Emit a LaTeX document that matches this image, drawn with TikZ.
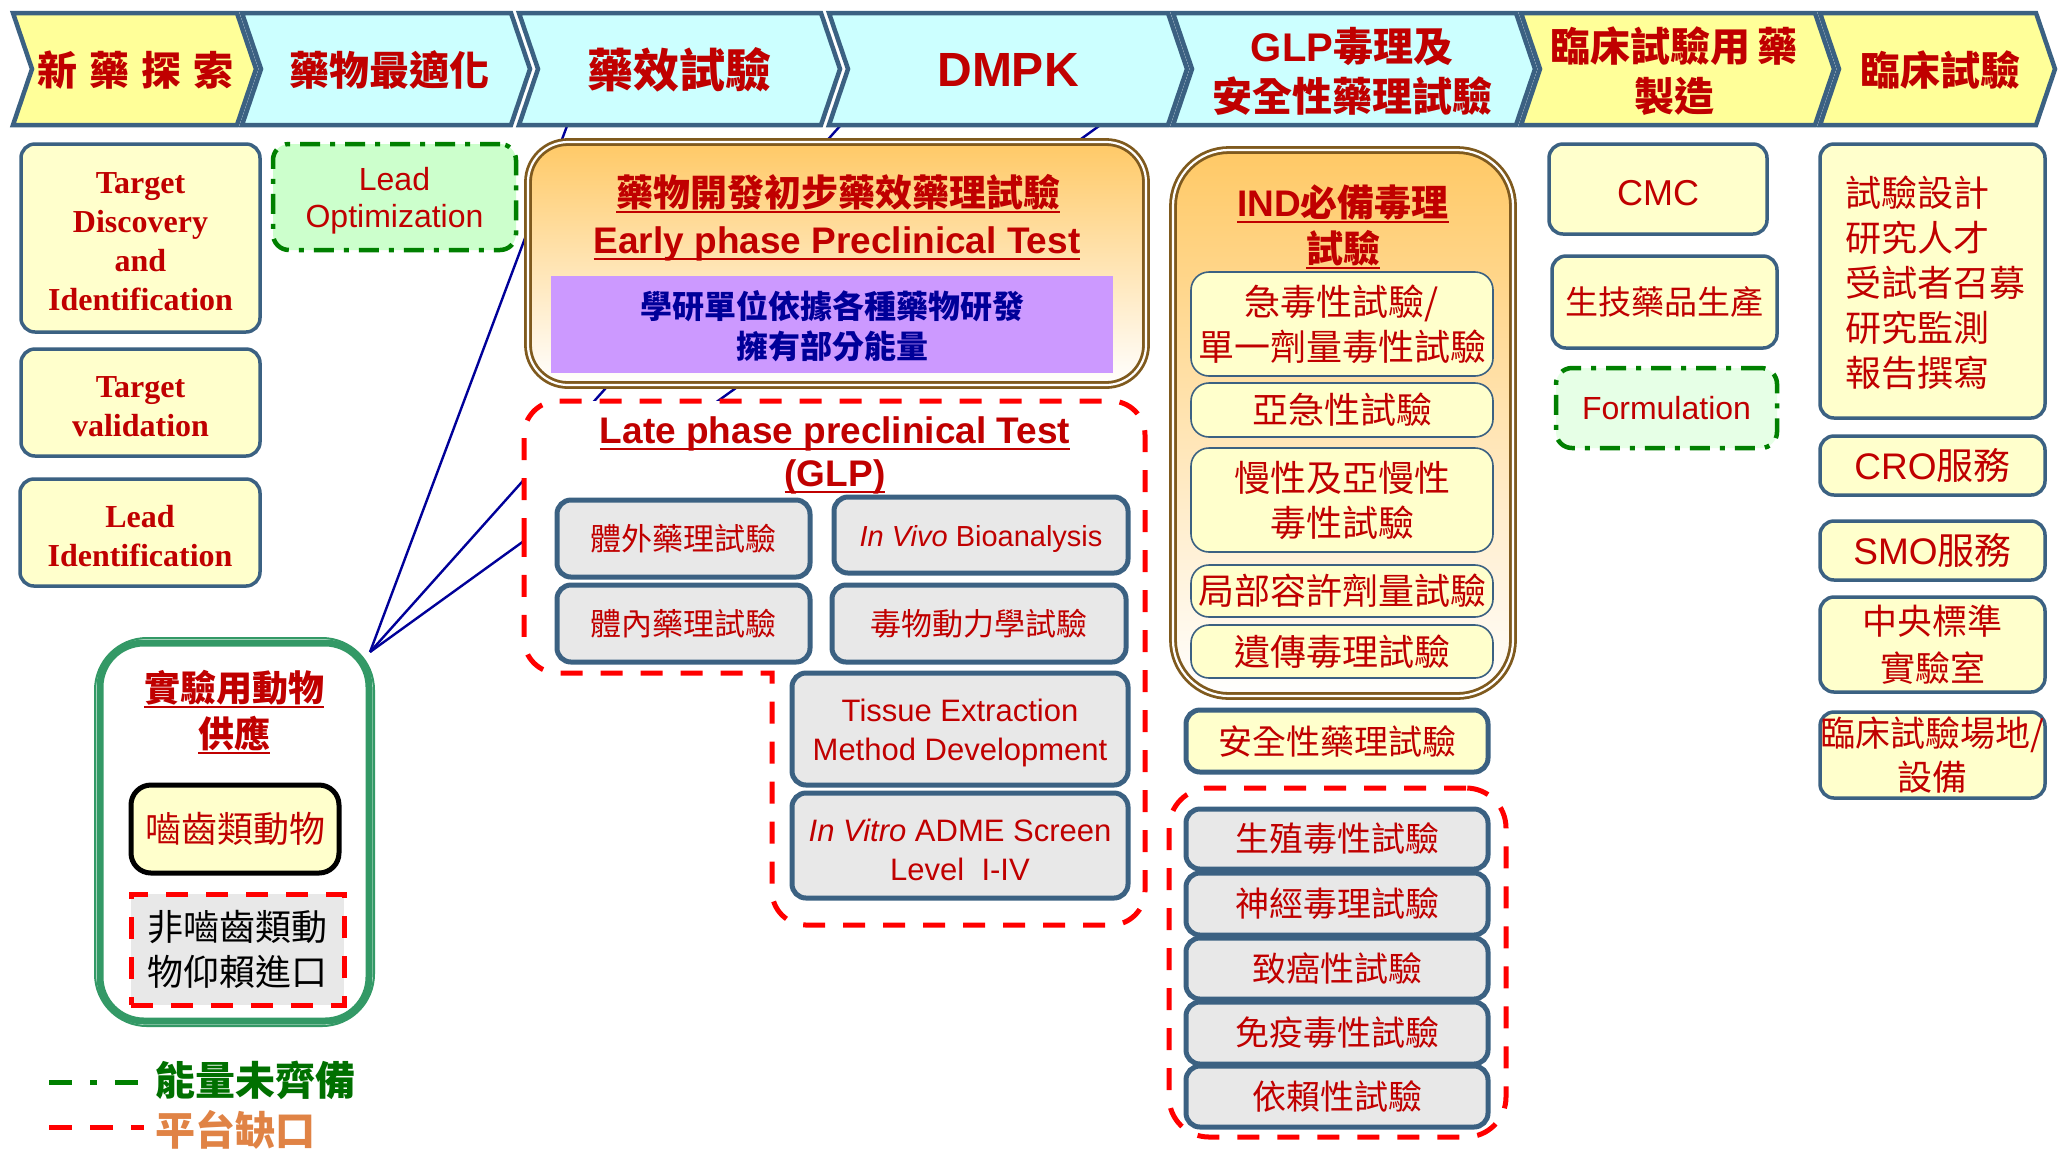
\documentclass[tikz,border=0pt]{standalone}
\usepackage{fontspec}
\setmainfont{Noto Sans CJK TC}
\newfontfamily\lat{Liberation Sans}
\newfontfamily\tnr{Liberation Serif}
\definecolor{bordc}{HTML}{3B6182}
\definecolor{redT}{HTML}{C00000}
\definecolor{cyanF}{HTML}{CCFFFF}
\definecolor{yelF}{HTML}{FFFF99}
\definecolor{ltyel}{HTML}{FFFFCC}
\definecolor{grayF}{HTML}{E8E8E8}
\definecolor{dkgreen}{HTML}{008000}
\definecolor{ltgreen}{HTML}{CCFFCC}
\definecolor{ltgreenB}{HTML}{E6FFE6}
\definecolor{brownB}{HTML}{7F5A1E}
\definecolor{orangeT}{HTML}{FFC966}
\definecolor{purpleF}{HTML}{CC99FF}
\definecolor{navyT}{HTML}{000099}
\definecolor{animG}{HTML}{339966}
\definecolor{legG}{HTML}{007000}
\definecolor{legO}{HTML}{E08345}
\definecolor{dashR}{HTML}{FF0000}
\newcommand\fsz[2]{\fontsize{#1}{#2}\selectfont}
\newcommand\myul[1]{\leavevmode\setbox0=\hbox{#1}\rlap{\rule[-0.2em]{\wd0}{0.075em}}\box0}
\newcommand\bx[7]{\node[#2, minimum width={(#5-#3)*0.5pt}, minimum height={(#6-#4)*0.5pt}] (#1) at ({(#3+#5)/2},{(#4+#6)/2}) {#7};}
\newcommand\bxl[8]{\node[#2, minimum width={(#5-#3)*0.5pt}, minimum height={(#6-#4)*0.5pt}] (#1) at ({(#3+#5)/2},{(#4+#6)/2}) {};
  \node[lattext, #7] (#1t) at (#1.center) {#8};}
\newcommand\chevron[3]{\path[chev, fill=#3] (#1,13) -- (#2,13) -- (#2+19,69) -- (#2,125) -- (#1,125) -- (#1+19,69) -- cycle;}
\tikzset{
  chev/.style={draw=bordc, line width=2.25pt, line join=miter},
  ctext/.style={text=redT, font=\bfseries\fsz{20pt}{25pt}, align=center, inner sep=0pt},
  ybox/.style={draw=bordc, fill=ltyel, line width=1.75pt, rounded corners=7pt, align=center, inner sep=0pt, text=redT},
  gbox/.style={draw=bordc, fill=grayF, line width=2.5pt, rounded corners=7pt, align=center, inner sep=0pt, text=redT},
  thinbox/.style={draw=bordc, fill=ltyel, line width=0.8pt, rounded corners=9pt, align=center, inner sep=0pt, text=redT, font=\fsz{18pt}{22.5pt}},
  gdash/.style={draw=dkgreen, line width=2.25pt, dash pattern=on 10pt off 5pt on 2.5pt off 5pt, rounded corners=8pt, align=center, inner sep=0pt, text=redT},
  rdash/.style={draw=dashR, line width=2.5pt, dash pattern=on 11pt off 9pt},
  dbl/.style={draw=brownB, double=white, line width=1.4pt, double distance=1.1pt, inner sep=0pt},
  bl/.style={draw=navyT, line width=1.2pt},
  ttl/.style={text=redT, font=\bfseries\fsz{18.5pt}{22pt}, anchor=base, inner sep=0pt},
  lattext/.style={text=redT, align=center, inner sep=0pt, yshift=-2pt},
}
\begin{document}
\begin{tikzpicture}[x=0.5pt, y=-0.5pt]
\path[use as bounding box, fill=white] (0,0) rectangle (2059,1153);
% connectors (behind everything)
\coordinate (ac) at (370,652);
\coordinate (t1) at (567,126);
\coordinate (t2) at (840,126);
\coordinate (t3) at (1099,126);
\draw[bl] (ac) -- (t1);
\draw[bl] (ac) -- (t2);
\draw[bl] (ac) -- (t3);
% chevrons
\chevron{13}{237}{yelF}
\chevron{242}{511}{cyanF}
\chevron{519}{821}{cyanF}
\chevron{829}{1168}{cyanF}
\chevron{1173}{1516}{cyanF}
\chevron{1521}{1815}{yelF}
\chevron{1820}{2036}{yelF}
\node[ctext] (ch1) at (135,70) {新\hspace{0.3em}藥\hspace{0.3em}探\hspace{0.3em}索};
\node[ctext] (ch2) at (389,70) {藥物最適化};
\node[ctext, font=\bfseries\fsz{23pt}{28pt}] (ch3) at (679,70) {藥效試驗};
\node[ctext, font=\lat\bfseries\fsz{24pt}{28pt}] (ch4) at (1008,70) {DMPK};
\node[ctext] (ch5) at (1352,71) {{\lat GLP}毒理及\\安全性藥理試驗};
\node[ctext] (ch6) at (1674,71) {臨床試驗用\hspace{0.2em}藥\\製造};
\node[ctext] (ch7) at (1940,70) {臨床試驗};
% left column
\bxl{td}{ybox}{21}{144}{260}{332}{font=\tnr\bfseries\fsz{16pt}{19.5pt}}{Target\\Discovery\\and\\Identification}
\bxl{tv}{ybox}{21}{349}{260}{456}{font=\tnr\bfseries\fsz{16pt}{19.5pt}}{Target\\validation}
\bxl{li}{ybox}{20}{479}{260}{586}{font=\tnr\bfseries\fsz{16pt}{19.5pt}}{Lead\\Identification}
\bxl{lo}{gdash, fill=ltgreen}{273}{144}{516}{250}{font=\lat\fsz{16pt}{18.5pt}}{Lead\\Optimization}
% early phase
\bx{early}{dbl, top color=orangeT, bottom color=white, rounded corners=20pt}{528}{142}{1146}{385}{}
\node[ttl] (et1) at (838,206) {\myul{藥物開發初步藥效藥理試驗}};
\node[ttl, font=\lat\bfseries\fsz{18.5pt}{22pt}] (et2) at (837,253) {\myul{Early phase Preclinical Test}};
\bxl{purp}{fill=purpleF}{551}{276}{1113}{373}{text=navyT, font=\bfseries\fsz{16pt}{20pt}, yshift=1pt}{學研單位依據各種藥物研發\\擁有部分能量}
% late phase
\path[rdash, fill=white] (524,540) [rounded corners=17pt] -- (524,401) -- (1145,401) -- (1145,925) -- (772,925) [sharp corners] -- (772,673) [rounded corners=17pt] -- (524,673) -- (524,540);
\node[ttl, font=\lat\bfseries\fsz{18.5pt}{22pt}] (lt1) at (835,443) {\myul{Late phase preclinical Test}};
\node[ttl, font=\lat\bfseries\fsz{18.5pt}{22pt}] (lt2) at (835,486) {\myul{(GLP)}};
\bx{iv1}{gbox, font=\fsz{15.5pt}{19pt}}{557}{500}{810}{577}{體外藥理試驗}
\bxl{ivb}{gbox}{834}{497}{1128}{573}{font=\lat\fsz{14.5pt}{18pt}}{\textit{In Vivo} Bioanalysis}
\bx{iv2}{gbox, font=\fsz{15.5pt}{19pt}}{557}{585}{810}{662}{體內藥理試驗}
\bx{tk}{gbox, font=\fsz{15.5pt}{19pt}}{832}{585}{1126}{662}{毒物動力學試驗}
\bxl{tiss}{gbox}{792}{673}{1128}{785}{font=\lat\fsz{15.5pt}{19.5pt}}{Tissue Extraction\\Method Development}
\bxl{adme}{gbox}{792}{793}{1128}{898}{font=\lat\fsz{15.5pt}{19.5pt}}{\textit{In Vitro} ADME Screen\\Level\ \ I-IV}
% IND
\bx{ind}{dbl, top color=orangeT, bottom color=white, rounded corners=28pt}{1173}{150}{1513}{696}{}
\node[ttl] (indt1) at (1343,216) {\myul{{\lat IND}必備毒理}};
\node[ttl] (indt2) at (1343,262) {\myul{試驗}};
\bx{acute}{thinbox}{1191}{272}{1493}{376}{急毒性試驗/\\單一劑量毒性試驗}
\bx{subac}{thinbox}{1191}{383}{1493}{437}{亞急性試驗}
\bx{chron}{thinbox}{1191}{448}{1493}{552}{慢性及亞慢性\\毒性試驗}
\bx{local}{thinbox}{1191}{565}{1493}{617}{局部容許劑量試驗}
\bx{geno}{thinbox}{1191}{625}{1493}{678}{遺傳毒理試驗}
\bx{safety}{ybox, line width=2.5pt, font=\fsz{17pt}{21pt}}{1186}{710}{1488}{772}{安全性藥理試驗}
\bx{toxgrp}{rdash, rounded corners=20pt, inner sep=0pt}{1169}{788}{1506}{1137}{}
\bx{repro}{gbox, font=\fsz{17pt}{21pt}}{1186}{809}{1488}{869}{生殖毒性試驗}
\bx{neuro}{gbox, font=\fsz{17pt}{21pt}}{1186}{873}{1488}{935}{神經毒理試驗}
\bx{carc}{gbox, font=\fsz{17pt}{21pt}}{1186}{938}{1488}{999}{致癌性試驗}
\bx{immu}{gbox, font=\fsz{17pt}{21pt}}{1186}{1002}{1488}{1064}{免疫毒性試驗}
\bx{depd}{gbox, font=\fsz{17pt}{21pt}}{1186}{1066}{1488}{1127}{依賴性試驗}
% column 6
\bxl{cmc}{ybox}{1549}{144}{1767}{234}{font=\lat\fsz{18pt}{22pt}}{CMC}
\bx{bio}{ybox, font=\fsz{16.5pt}{20pt}}{1552}{256}{1777}{348}{生技藥品生產}
\bx{form}{gdash, fill=ltgreenB, font=\lat\fsz{16pt}{20pt}}{1556}{368}{1777}{448}{Formulation}
% column 7
\bx{trial}{ybox}{1820}{144}{2045}{418}{}
\node[anchor=north west, align=left, inner sep=0pt, text=redT, font=\fsz{18pt}{22.5pt}] (trialt) at (1845,175) {試驗設計\\研究人才\\受試者召募\\研究監測\\報告撰寫};
\bx{cro}{ybox, font=\fsz{18.5pt}{22pt}}{1820}{436}{2045}{495}{{\lat CRO}服務}
\bx{smo}{ybox, font=\fsz{18.5pt}{22pt}}{1820}{521}{2045}{580}{{\lat SMO}服務}
\bx{clab}{ybox, font=\fsz{17.5pt}{23.5pt}}{1820}{597}{2045}{692}{中央標準\\實驗室}
\bx{site}{ybox, font=\fsz{17.5pt}{22pt}}{1820}{712}{2045}{798}{臨床試驗場地/\\設備}
% animals
\bx{anim}{draw=animG, line width=1pt, fill=white, rounded corners=26pt, inner sep=0pt}{95}{638}{374}{1026}{}
\draw[animG, line width=3.5pt, rounded corners=22pt] ([shift={(6,6)}]anim.north west) rectangle ([shift={(-6,-6)}]anim.south east);
\node[ttl, font=\bfseries\fsz{18pt}{22pt}] (at1) at (234,701) {\myul{實驗用動物}};
\node[ttl, font=\bfseries\fsz{18pt}{22pt}] (at2) at (234,747) {\myul{供應}};
\bx{rod}{draw=black, line width=2.5pt, fill=ltyel, rounded corners=10pt, inner sep=0pt, text=redT, font=\fsz{18pt}{22pt}}{131}{785}{339}{873}{嚙齒類動物}
\bx{nonrod}{rdash, fill=grayF, inner sep=0pt, align=left, font=\fsz{18pt}{22.5pt}}{131}{894}{344}{1005}{非嚙齒類動\\物仰賴進口}
% legend
\coordinate (lg1a) at (49,1082);
\coordinate (lg1b) at (140,1082);
\coordinate (lg2a) at (49,1127);
\coordinate (lg2b) at (144,1127);
\draw[dkgreen, line width=2.5pt, dash pattern=on 11.5pt off 9pt on 3.5pt off 9pt] (lg1a) -- (lg1b);
\draw[dashR, line width=2.5pt, dash pattern=on 11.5pt off 9pt] (lg2a) -- (lg2b);
\node[anchor=west, inner sep=0pt, text=legG, font=\bfseries\fsz{20pt}{24pt}] (lg1t) at (155,1080) {能量未齊備};
\node[anchor=west, inner sep=0pt, text=legO, font=\bfseries\fsz{20pt}{24pt}] (lg2t) at (155,1130) {平台缺口};
\end{tikzpicture}
\end{document}
